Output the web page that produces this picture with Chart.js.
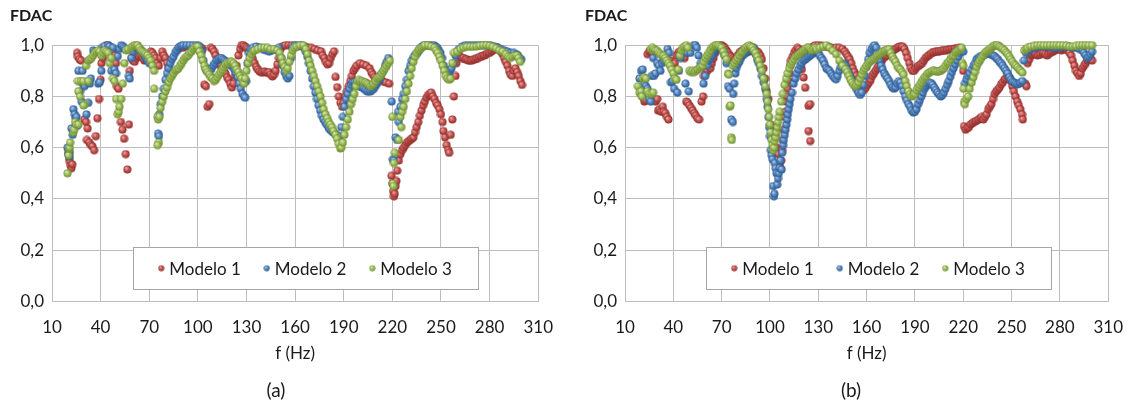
<!DOCTYPE html>
<html>
<head>
<meta charset="utf-8">
<script src="https://cdn.jsdelivr.net/npm/chart.js@4/dist/chart.umd.min.js"></script>
<style>
  body { margin: 0; background: #fff; }
  .panel { position: absolute; top: 0; height: 417px; }
  #wrapA { left: 0; width: 569px; }
  #wrapB { left: 569px; width: 570px; }
</style>
</head>
<body>
<div class="panel" id="wrapA"><canvas id="chartA"></canvas></div>
<div class="panel" id="wrapB"><canvas id="chartB"></canvas></div>
<script>
// tick labels and captions
const xTicks = [10, 40, 70, 100, 130, 160, 190, 220, 250, 280, 310];
const yTicks = [0, 0.2, 0.4, 0.6, 0.8, 1.0];
const seriesNames = ['Modelo 1', 'Modelo 2', 'Modelo 3'];
const captions = ['(a)', '(b)'];

// panel (a): [f (Hz), FDAC]
const modelo1A = [[20,0.58],[20.5,0.56],[21,0.545],[21.5,0.53],[22,0.52],[22.5,0.535],
  [25.5,0.97],[26,0.955],[27,0.945],[28,0.94],[29,0.85],[30,0.71],[31,0.70],[32,0.675],[31.5,0.63],
  [33,0.62],[34,0.61],[35,0.605],[36,0.59],[37,0.645],[38,0.715],[39,0.79],[40,0.865],[40.5,0.93],
  [41.5,0.95],[42.5,0.99],[43.5,1.0],[44.5,1.0],[45.5,0.995],[46.5,0.97],[48,0.975],[49,0.96],
  [49.5,0.93],[50,0.84],[51,0.83],[52.5,0.70],[53.5,0.67],[54.5,0.635],[55.5,0.575],[56.5,0.515],
  [57.5,0.69],[58,0.90],[59,0.95],[60,0.94],[61,0.935],[62,0.95],[63,0.96],[64,0.955],[65,0.96],
  [66,0.95],[67,0.94],[68,0.945],[69,0.96],[70,0.965],[71,0.975],[72,0.97],[73,0.96],[74,0.95],
  [75,0.93],[76,0.92],[77,0.95],[78,0.975],[79,0.96],[80,0.95],[81,0.93],[82,0.91],[83,0.89],[84,0.885],
  [88,0.985],[91,0.99],[94,0.995],[97,0.99],[100,0.99],[102,0.99],[103,0.985],[104,0.846],[105,0.84],
  [106,0.76],[107,0.77],[108,0.99],[109,0.985],[110,0.975],[111,0.96],[112,0.945],[113,0.935],
  [114,0.92],[115,0.91],[116,0.90],[117,0.89],[118,0.875],[119,0.865],[120,0.85],[121,0.835],
  [122,0.85],[123,0.88],[124,0.92],[125,0.96],[126,0.985],[127,1.0],[128,1.0],[129,0.995],[130,0.99],
  [131,0.985],[132,0.975],[133,0.96],[134,0.945],[135,0.93],[136,0.915],[137,0.905],[138,0.898],
  [139,0.895],[140,0.895],[141,0.898],[142,0.895],[143,0.893],[144,0.895],[145,0.885],[146,0.878],
  [147,0.885],[148,0.90],[149,0.925],[150,0.95],[151,0.985],[152,0.995],[154,1.0],[156,1.0],[158,1.0],
  [160,0.998],[162,0.995],[164,0.997],[166,0.995],[168,0.99],[170,0.99],[172,0.985],[174,0.98],
  [176,0.976],[177,0.96],[178,0.95],[179,0.935],[180,0.925],[181,0.93],[182,0.95],[183,0.965],
  [184,0.976],[185,0.876],[186,0.836],[187,0.80],[188,0.775],[189,0.76],[190,0.775],[191,0.80],
  [192,0.82],[193,0.84],[194,0.86],[195,0.88],[196,0.90],[197,0.91],[198,0.92],[200,0.93],[202,0.925],
  [204,0.92],[206,0.91],[207,0.895],[208,0.885],[209,0.875],[210,0.865],[212,0.87],[214,0.86],
  [216,0.855],[218,0.85],[219.5,0.49],[220,0.46],[220.5,0.43],[221,0.41],[221.5,0.42],[222,0.45],
  [222.5,0.47],[223,0.51],[224,0.55],[225,0.575],[226,0.59],[227,0.60],[228,0.61],[229,0.62],
  [230,0.625],[231,0.63],[232,0.635],[233,0.64],[234,0.66],[235,0.68],[236,0.70],[237,0.725],
  [238,0.745],[239,0.765],[240,0.78],[241,0.795],[242,0.805],[243,0.81],[244,0.815],[245,0.80],
  [246,0.79],[247,0.775],[248,0.765],[249,0.75],[250,0.73],[251,0.70],[251.5,0.665],[252.5,0.64],
  [253.5,0.61],[254.5,0.59],[255,0.58],[256,0.65],[257,0.71],[258,0.80],[259,0.88],[259.5,0.93],
  [261,0.96],[262,0.955],[263,0.95],[264,0.95],[265,0.945],[266,0.945],[267,0.94],[268,0.94],
  [269,0.94],[270,0.945],[271,0.945],[272,0.95],[273,0.95],[274,0.955],[275,0.955],[276,0.96],
  [277,0.96],[278,0.965],[279,0.97],[280,0.97],[281,0.975],[282,0.98],[283,0.985],[284,0.99],
  [285,0.99],[286,0.985],[287,0.975],[288,0.965],[289,0.95],[290,0.935],[291,0.92],[292,0.90],
  [293,0.885],[294,0.88],[295,0.90],[296,0.91],[297,0.895],[298,0.88],[299,0.86],[300,0.845]];

const modelo2A = [[19.5,0.60],[20,0.575],[20.5,0.565],[21,0.58],[22,0.675],[22.8,0.65],[23.2,0.75],
  [24,0.73],[24.5,0.715],[25.2,0.72],[25.5,0.685],[26.3,0.90],[27.3,0.82],[28.3,0.78],[28.8,0.90],
  [30,0.84],[31.3,0.73],[32.4,0.775],[33.4,0.85],[34,0.87],[35.4,0.98],[36.5,0.975],[38.5,0.85],
  [39.5,0.855],[40.5,0.90],[40.8,0.99],[42.5,0.996],[44.6,1.0],[45.5,0.995],[46.6,0.90],[47.6,0.99],
  [48.6,0.905],[49.5,0.89],[50.6,0.957],[51.6,0.985],[52.7,1.0],[53.7,0.996],[54.5,0.99],[55.5,0.985],
  [57.4,0.88],[58,0.87],[59,0.95],[60,0.975],[61,0.99],[62,0.995],[63,0.99],[64,0.985],[65,0.98],
  [66,0.97],[67,0.96],[68,0.95],[69,0.94],[70,0.93],[75.5,0.655],[76,0.645],[75.5,0.72],[76.2,0.73],
  [77,0.77],[78,0.80],[79,0.83],[80,0.865],[81,0.89],[82,0.91],[83,0.93],[84,0.945],[85,0.955],
  [86,0.97],[87,0.98],[88,0.99],[89,0.995],[90,0.998],[91,1.0],[93,1.0],[95,1.0],[97,1.0],[99,1.0],
  [100.5,0.998],[101.5,0.99],[102.5,0.975],[103.5,0.94],[104.5,0.915],[105.5,0.90],[106.5,0.895],
  [107.5,0.90],[108.5,0.91],[109.5,0.92],[110.5,0.93],[111.5,0.94],[112.5,0.945],[113.5,0.95],
  [114.5,0.95],[115.5,0.945],[116.5,0.94],[117.5,0.935],[118.5,0.93],[119.5,0.925],[120.5,0.92],
  [121.5,0.915],[122.5,0.905],[123.5,0.89],[124.5,0.875],[125.5,0.85],[126.5,0.83],[127.5,0.81],
  [128.5,0.80],[129.2,0.795],[129.8,0.86],[130.5,0.93],[131.5,0.97],[132.5,0.985],[134,0.99],
  [136,0.995],[138,0.99],[140,0.985],[142,0.98],[144,0.975],[146,0.98],[148,0.985],[150,0.99],
  [151.5,0.95],[152.5,0.92],[153.5,0.895],[154.5,0.88],[155.5,0.87],[156.5,0.88],[157.5,0.95],
  [158.5,0.99],[160,1.0],[162,1.0],[164,1.0],[165.5,0.99],[166.5,0.975],[167.5,0.955],[168.5,0.93],
  [169.5,0.90],[170.5,0.87],[171.5,0.84],[172.5,0.815],[173.5,0.79],[174.5,0.765],[175.5,0.745],
  [176.5,0.725],[177.5,0.71],[178.5,0.70],[179.5,0.69],[180.5,0.68],[181.5,0.67],[182.5,0.665],
  [183.5,0.66],[184.5,0.655],[185.5,0.65],[186.5,0.645],[187.5,0.645],[188.5,0.68],[189.5,0.72],
  [190.5,0.76],[191.5,0.79],[192.5,0.81],[193.5,0.83],[194.5,0.845],[195.5,0.855],[196.5,0.855],
  [197.5,0.85],[198.5,0.845],[199.5,0.84],[200.5,0.84],[201.5,0.835],[202.5,0.83],[203.5,0.825],
  [204.5,0.82],[205.5,0.82],[206.5,0.82],[207.5,0.825],[208.5,0.83],[209.5,0.84],[210.5,0.85],
  [211.5,0.86],[212.5,0.87],[213.5,0.89],[214.5,0.90],[215.5,0.92],[216.5,0.935],[217.5,0.95],
  [219.6,0.78],[220.4,0.555],[221,0.55],[222,0.64],[223,0.63],[223.5,0.74],[224,0.70],[225,0.76],
  [226,0.79],[227,0.81],[228,0.84],[229,0.865],[230,0.90],[231,0.92],[232,0.94],[233.3,0.955],
  [234.5,0.965],[235.5,0.97],[236.5,0.98],[237.5,0.99],[238.5,0.995],[239.5,1.0],[241,1.0],
  [242.6,1.0],[244,1.0],[245.7,1.0],[246.7,0.995],[247.7,0.99],[248.7,0.98],[249.7,0.97],
  [250.7,0.95],[251.8,0.92],[253.2,0.90],[254.5,0.885],[255.5,0.90],[256.5,0.91],[257.5,0.93],
  [259,0.96],[261,0.985],[263,0.995],[265,1.0],[267,1.0],[269,1.0],[271,1.0],[273,1.0],[275,1.0],
  [277,1.0],[279,1.0],[281,0.998],[283,0.995],[285,0.99],[287,0.985],[289,0.98],[291,0.975],
  [293,0.97],[295,0.97],[296.5,0.965],[297.5,0.96],[298.5,0.95],[299.5,0.945]];

const modelo3A = [[19.6,0.50],[20.2,0.57],[20.5,0.595],[20.8,0.60],[21.2,0.62],[23.2,0.66],[23.6,0.67],
  [24.2,0.70],[25,0.69],[26.3,0.69],[26.3,0.82],[27.3,0.80],[26,0.86],[28,0.86],[29.3,0.86],[30.3,0.77],
  [29.5,0.765],[32.4,0.86],[31,0.92],[32.4,0.94],[33.4,0.945],[34.4,0.95],[35.4,0.96],[36.4,0.97],
  [37.4,0.975],[38.5,0.98],[39.5,0.975],[40.5,0.96],[41.5,0.97],[42.5,0.98],[43.5,0.975],[44.6,0.97],
  [45.6,0.93],[46.6,0.95],[47.6,0.87],[48.6,0.86],[49.6,0.79],[50.6,0.73],[51.2,0.74],[51.7,0.76],
  [52.7,0.79],[53.7,0.85],[54.7,0.93],[55.7,0.98],[57,0.985],[58.8,0.99],[59.8,0.995],[60.8,1.0],
  [61.8,1.0],[62.8,1.0],[63.8,0.99],[64.9,0.98],[65.9,0.975],[66.9,0.97],[67.9,0.965],[68.9,0.96],
  [70,0.95],[71,0.94],[72,0.92],[73,0.90],[73,0.83],[75,0.72],[75.5,0.71],[76,0.62],[75.2,0.61],
  [76.2,0.72],[77,0.755],[78,0.78],[79,0.80],[80,0.82],[81,0.835],[82,0.855],[83,0.87],[84,0.88],
  [85,0.89],[86,0.90],[87,0.905],[88,0.91],[89,0.92],[90,0.93],[91,0.94],[92,0.95],[93,0.955],
  [94,0.96],[95,0.97],[96,0.975],[97,0.985],[98,0.99],[99,0.995],[100,0.995],[101,0.975],[102,0.96],
  [103,0.94],[104,0.92],[105,0.905],[106,0.895],[107,0.885],[108,0.875],[109,0.87],[110,0.86],
  [111,0.865],[112,0.875],[113,0.885],[114,0.895],[115,0.905],[116,0.915],[117,0.925],[118,0.93],
  [119,0.93],[120,0.935],[121,0.935],[122,0.93],[123,0.92],[124,0.905],[125,0.895],[126,0.88],
  [127,0.87],[128,0.855],[128.5,0.85],[129.2,0.87],[130,0.90],[131,0.93],[132,0.95],[133,0.965],
  [134,0.975],[135,0.98],[137,0.985],[139,0.99],[141,0.99],[143,0.99],[145,0.985],[147,0.985],
  [149,0.98],[150.5,0.97],[151.5,0.95],[152.5,0.93],[153.5,0.915],[154.5,0.90],[155.5,0.91],
  [156.5,0.935],[157.5,0.96],[158.5,0.98],[159.5,0.99],[161,0.995],[163,1.0],[165,1.0],[166.6,0.985],
  [167.6,0.965],[168.6,0.94],[169.6,0.92],[170.6,0.90],[171.6,0.88],[172.6,0.86],[173.6,0.84],
  [174.7,0.82],[175.7,0.80],[176.7,0.775],[177.7,0.75],[178.8,0.73],[179.8,0.715],[180.8,0.70],
  [181.8,0.69],[182.8,0.68],[183.8,0.665],[184.9,0.65],[185.9,0.635],[186.9,0.615],[187.9,0.597],
  [188.5,0.60],[189.5,0.62],[190.5,0.65],[191.5,0.68],[192.5,0.71],[193.5,0.74],[194.5,0.77],
  [195.5,0.79],[196.5,0.81],[197.5,0.84],[198.5,0.86],[199.5,0.865],[200.5,0.86],[201.5,0.86],
  [202.5,0.855],[203.5,0.855],[204.5,0.85],[205.5,0.845],[206.5,0.84],[207.5,0.845],[208.5,0.85],
  [209.5,0.86],[210.5,0.87],[211.5,0.875],[212.5,0.88],[213.5,0.89],[214.5,0.90],[215.5,0.91],
  [216.5,0.92],[217.5,0.93],[218.5,0.94],[220,0.72],[220.3,0.46],[220.7,0.45],[221,0.54],[221.5,0.58],
  [224,0.63],[225,0.72],[225.5,0.68],[226,0.74],[227,0.76],[228,0.79],[229,0.82],[230,0.85],
  [231,0.88],[232,0.91],[233,0.935],[234,0.955],[235,0.97],[236,0.98],[237,0.985],[238,0.99],
  [239,0.995],[240,1.0],[242,1.0],[244,0.995],[246,0.99],[247,0.98],[248,0.97],[249,0.955],[250,0.94],
  [251,0.92],[252,0.90],[253,0.88],[254,0.87],[255,0.865],[256,0.87],[257,0.93],[258,0.97],[260,0.975],
  [262,0.985],[264,0.99],[266,0.994],[268,0.994],[270,0.994],[272,0.995],[274,0.998],[276,1.0],
  [278,1.0],[280,0.998],[282,0.994],[284,0.988],[286,0.98],[288,0.975],[290,0.965],[291.5,0.955],
  [292.7,0.95],[294,0.955],[295.5,0.96],[296.8,0.96],[297.8,0.95],[298.8,0.935]];

// panel (b)
const modelo1B = [[21,0.80],[21.5,0.795],[22,0.78],[23,0.785],[24,0.965],[25,0.975],[26,0.98],[27,0.97],
  [28,0.79],[29,0.78],[30,0.79],[30.5,0.745],[31.5,0.75],[32.5,0.74],[33.5,0.76],[34,0.74],[35,0.735],
  [36,0.72],[37,0.71],[38,0.94],[39,0.92],[40,0.90],[41,0.93],[42,0.96],[43,0.97],[44,0.975],[45,0.97],
  [46,0.96],[47,0.95],[48,0.78],[49,0.775],[50,0.765],[51,0.755],[52,0.745],[53,0.735],[54,0.725],
  [55,0.715],[56,0.71],[57.5,0.78],[58.5,0.80],[59,0.88],[60,0.89],[61,0.90],[62,0.92],[63,0.91],
  [64,0.93],[65,0.95],[66,0.97],[67,0.985],[68,0.995],[69,1.0],[70,1.0],[71,0.995],[72,0.99],[73,0.98],
  [74,0.97],[75,0.96],[76,0.955],[77,0.95],[78,0.945],[79,0.95],[80,0.96],[81,0.97],[82,0.975],
  [83,0.98],[84,0.985],[85,0.98],[86,0.975],[87,0.975],[88,0.98],[89,0.985],[90,0.985],[91,0.98],
  [92,0.975],[93,0.97],[94,0.96],[95,0.945],[96,0.91],[97,0.87],[98,0.82],[99,0.79],[100.5,0.69],
  [101.5,0.68],[102.5,0.66],[103.5,0.645],[104,0.60],[105,0.575],[106,0.535],[106.5,0.52],[107,0.55],
  [107.5,0.59],[108,0.63],[108.5,0.67],[109,0.72],[109.5,0.74],[110,0.78],[110.5,0.80],[111,0.83],
  [111.5,0.86],[112,0.89],[112.5,0.92],[113,0.94],[114,0.955],[115,0.97],[116,0.98],[117,0.99],
  [118,0.985],[119,0.975],[119.8,0.906],[120.9,0.874],[121.9,0.834],[120,0.97],[121,0.96],[122,0.95],
  [123,0.955],[123.9,0.763],[124.9,0.77],[124,0.665],[125,0.626],[124,0.96],[125,0.975],[126,0.99],
  [127,0.995],[128,1.0],[130,1.0],[132,0.998],[134,0.995],[136,0.993],[138,0.99],[139,0.987],[141,0.99],
  [143,0.99],[145,0.985],[146.5,0.975],[147.5,0.965],[148.5,0.955],[149.5,0.945],[150.5,0.93],
  [151.5,0.91],[152.5,0.895],[153.5,0.88],[154.5,0.865],[155.5,0.85],[156.5,0.838],[157.5,0.828],
  [158.5,0.826],[159.5,0.835],[160.5,0.845],[161.5,0.855],[162.5,0.865],[163.5,0.88],[164.5,0.89],
  [165.5,0.90],[166.5,0.91],[167.5,0.92],[168.5,0.93],[169.5,0.94],[170.5,0.95],[171.5,0.955],
  [172.5,0.96],[173.5,0.97],[174.5,0.975],[175.5,0.978],[176.5,0.98],[177.5,0.984],[178.5,0.988],
  [179.5,0.992],[180.5,0.995],[181.5,0.995],[182.5,0.994],[183.5,0.985],[184.5,0.97],[185.5,0.95],
  [186.5,0.93],[187.5,0.91],[188.5,0.90],[189.5,0.90],[190.5,0.91],[191.5,0.916],[192.5,0.92],
  [193.5,0.925],[194.5,0.93],[195.5,0.94],[196.5,0.95],[197.5,0.955],[198.5,0.96],[199.5,0.965],
  [200.5,0.97],[201.5,0.972],[202.5,0.974],[203.5,0.975],[204.5,0.976],[205.5,0.977],[206.5,0.978],
  [207.5,0.98],[208.5,0.98],[209.5,0.981],[210.5,0.982],[211.5,0.983],[212.5,0.984],[213.5,0.985],
  [214.5,0.986],[215.5,0.987],[216.5,0.988],[217.5,0.99],[218.5,0.98],[220,0.90],[220.5,0.684],
  [221.5,0.67],[222.5,0.677],[223.5,0.68],[224.5,0.69],[225.5,0.695],[226.5,0.70],[227.5,0.703],
  [228.5,0.706],[229.5,0.71],[230.5,0.715],[231.5,0.72],[232.5,0.71],[233.5,0.72],[234.5,0.73],
  [235.5,0.75],[236.5,0.76],[237.5,0.77],[238.5,0.79],[239.5,0.81],[240.5,0.82],[241.5,0.827],
  [242.5,0.835],[243.5,0.847],[244.5,0.855],[245.5,0.865],[246.5,0.87],[247.5,0.88],[248.5,0.875],
  [249.5,0.86],[250.5,0.84],[251.5,0.82],[252.5,0.80],[253.5,0.78],[254.5,0.765],[255.5,0.75],
  [256.5,0.73],[257,0.71],[258.5,0.85],[259.2,0.84],[260,0.93],[261,0.945],[262,0.96],[263,0.965],
  [264,0.97],[265,0.965],[266,0.96],[267,0.962],[268,0.965],[269,0.97],[270,0.97],[271,0.965],
  [272,0.96],[273,0.965],[274,0.97],[275,0.974],[276,0.977],[277,0.98],[278,0.984],[279,0.987],
  [280,0.985],[281,0.98],[282,0.984],[283,0.987],[284,0.985],[285,0.98],[286,0.97],[287,0.96],
  [288,0.94],[289,0.92],[290,0.90],[291,0.89],[292,0.88],[293,0.89],[294,0.91],[295,0.92],[296,0.93],
  [297,0.94],[298,0.945],[299,0.95],[300,0.94]];

const modelo2B = [[19,0.87],[20,0.90],[21,0.905],[22,0.85],[23,0.84],[24,0.83],[25,0.79],[26,0.78],
  [26.5,0.88],[27.5,0.95],[28,0.88],[29,0.89],[30,0.93],[31,0.92],[32,0.90],[33,0.93],[34,0.94],
  [35,0.95],[36.4,0.985],[37.4,0.97],[38.5,0.855],[39.5,0.86],[40.5,0.83],[42.5,0.815],[43.5,0.90],
  [44.5,0.95],[46.6,0.97],[48.6,0.97],[50.6,0.97],[52.7,1.0],[53.7,1.0],[54.7,0.99],[55.7,0.96],
  [57,0.93],[47.6,0.85],[49.6,0.82],[58.8,0.85],[59.8,0.88],[61,0.92],[62,0.94],[63,0.95],[64,0.96],
  [65,0.97],[66,0.98],[67,0.985],[68,0.99],[69,0.99],[70,0.985],[71,0.975],[72,0.96],[73,0.93],
  [74,0.84],[75,0.83],[76,0.71],[77,0.70],[77.2,0.81],[77.8,0.85],[78.5,0.89],[79,0.91],[80,0.925],
  [81,0.935],[82,0.95],[83,0.96],[84,0.965],[85,0.97],[86,0.975],[87,0.98],[88,0.985],[89,0.99],
  [90,0.99],[91,0.965],[92,0.945],[93,0.93],[94,0.91],[95,0.88],[96,0.855],[97,0.83],[98,0.79],
  [98.5,0.76],[99,0.72],[99.5,0.68],[100,0.645],[100.5,0.59],[101,0.57],[101.5,0.555],[102,0.45],
  [102.5,0.41],[102.8,0.42],[103,0.54],[103.5,0.52],[104,0.50],[104.5,0.456],[105,0.48],[105.5,0.50],
  [106,0.52],[106.6,0.55],[107.3,0.515],[107.6,0.58],[108.2,0.61],[108.6,0.63],[109.2,0.65],
  [109.7,0.67],[110.2,0.69],[110.7,0.71],[111.1,0.73],[111.7,0.75],[112.2,0.77],[112.7,0.79],
  [113.7,0.815],[114.7,0.85],[115.7,0.87],[116.7,0.89],[117.7,0.905],[118.7,0.92],[119.7,0.93],
  [120.9,0.94],[121.9,0.945],[123,0.95],[124,0.955],[125,0.96],[126,0.965],[127,0.97],[128,0.975],
  [129,0.975],[130,0.97],[131,0.958],[132,0.95],[133,0.94],[134,0.925],[135,0.91],[136,0.905],
  [137,0.90],[138,0.89],[139,0.88],[140,0.872],[141,0.867],[142,0.88],[143,0.90],[144,0.915],
  [145,0.925],[146,0.928],[147,0.92],[148,0.905],[149,0.89],[150,0.875],[151,0.865],[152,0.855],
  [153,0.84],[154,0.826],[155,0.813],[156,0.806],[157,0.815],[158,0.845],[159,0.88],[160,0.915],
  [161,0.945],[162,0.97],[163,0.985],[164,0.994],[165,1.0],[166,0.99],[167,0.96],[168,0.94],
  [169,0.92],[170,0.905],[171,0.89],[172,0.88],[173,0.87],[174,0.86],[175,0.845],[176,0.835],
  [177,0.83],[178,0.835],[179,0.85],[180,0.86],[181,0.855],[182,0.84],[183,0.82],[184,0.80],
  [185,0.785],[186,0.77],[187,0.76],[188,0.745],[189,0.737],[190,0.74],[191,0.75],[192,0.77],
  [193,0.785],[194,0.80],[195,0.815],[196,0.83],[197,0.84],[198,0.848],[199,0.854],[200,0.852],
  [201,0.845],[202,0.835],[203,0.825],[204,0.815],[205,0.808],[206,0.80],[207,0.805],[208,0.815],
  [209,0.83],[210,0.845],[211,0.86],[212,0.877],[213,0.895],[214,0.91],[215,0.925],[216,0.94],
  [217,0.955],[218,0.97],[219,0.985],[220,0.975],[221,0.85],[222,0.867],[223,0.88],[224,0.89],
  [225.3,0.905],[226.3,0.92],[227.3,0.93],[228.2,0.945],[229.3,0.95],[230.3,0.955],[231.3,0.957],
  [232.4,0.96],[233.4,0.963],[234.4,0.967],[235.4,0.97],[236.5,0.967],[237.5,0.963],[238.5,0.96],
  [239.5,0.957],[240.5,0.95],[241.5,0.945],[242.5,0.935],[243.5,0.93],[244.5,0.92],[245.6,0.91],
  [246.6,0.90],[247.6,0.89],[248.6,0.875],[249.6,0.865],[250.6,0.857],[251.6,0.854],[252.6,0.85],
  [253.7,0.847],[254.7,0.85],[255.7,0.854],[256.7,0.86],[257.7,0.94],[259,0.97],[260,0.98],
  [262,0.985],[264,0.99],[266,0.993],[268,0.995],[270,0.995],[272,0.995],[274,0.993],[276,0.99],
  [278,0.99],[280,0.992],[282,0.993],[284,0.995],[286,0.993],[288,0.99],[290,0.99],[292,0.985],
  [294,0.98],[295,0.97],[296,0.96],[297,0.95],[298,0.955],[299,0.965],[300,0.975]];

const modelo3B = [[18,0.84],[19,0.815],[20,0.82],[20.5,0.80],[21,0.87],[22,0.875],[23,0.87],[24,0.82],
  [25,0.81],[26,0.985],[26.5,0.81],[27,0.99],[27.5,0.815],[28,0.985],[29,0.98],[30,0.978],[31,0.97],
  [32,0.965],[33,0.96],[34,0.958],[35,0.95],[36,0.94],[37,0.93],[38,0.92],[39,0.905],[40,0.89],
  [41,0.87],[42,0.865],[43,0.905],[44,0.96],[45,0.98],[46,0.99],[47,0.995],[48,1.0],[49,0.99],
  [50,0.90],[51,0.895],[52,0.90],[53,0.895],[54,0.90],[55,0.905],[56,0.91],[57,0.915],[58,0.92],
  [59,0.935],[60,0.95],[61,0.96],[62,0.97],[63,0.98],[64,0.99],[65,0.995],[66,1.0],[67,1.0],[68,1.0],
  [69,0.995],[70,0.99],[71,0.975],[72,0.96],[73,0.945],[74,0.89],[74.5,0.885],[75,0.76],[75.5,0.765],
  [76,0.64],[76.3,0.63],[77,0.92],[78,0.93],[79,0.94],[80,0.95],[81,0.96],[82,0.97],[83,0.975],
  [84,0.985],[85,0.99],[86,0.995],[87,1.0],[88,0.995],[89,0.99],[90,0.98],[91,0.97],[92,0.955],
  [93,0.94],[94,0.92],[95,0.90],[96,0.87],[97,0.84],[98,0.81],[98.5,0.78],[99,0.75],[99.5,0.72],
  [100,0.69],[100.5,0.66],[101,0.63],[101.5,0.61],[102,0.59],[102.5,0.60],[103,0.625],[103.5,0.64],
  [104,0.66],[104.5,0.68],[105,0.70],[105.5,0.72],[106,0.74],[107,0.78],[108,0.81],[109,0.845],
  [110,0.87],[111,0.89],[112,0.91],[113,0.925],[114,0.935],[115,0.945],[116,0.955],[117,0.96],
  [118,0.965],[119,0.97],[120,0.975],[121,0.98],[122,0.985],[123,0.99],[124,0.99],[125,0.985],
  [126,0.98],[127,0.985],[128,0.99],[129,0.985],[131,0.99],[133,0.995],[135,1.0],[137,0.99],
  [139,0.978],[141,0.965],[143,0.94],[145,0.92],[147,0.906],[148,0.895],[149,0.88],[150,0.865],
  [151,0.854],[152,0.845],[153,0.84],[154,0.845],[155,0.855],[156,0.87],[157,0.885],[158,0.90],
  [159,0.91],[160,0.92],[161,0.928],[162,0.935],[163,0.94],[164,0.945],[165,0.95],[166,0.955],
  [167,0.96],[168,0.965],[169,0.97],[170,0.975],[171,0.978],[172,0.98],[173,0.984],[174,0.984],
  [175,0.97],[176,0.955],[177,0.945],[178,0.935],[179,0.92],[180,0.91],[181,0.905],[182,0.895],
  [183,0.885],[184,0.86],[185,0.84],[186,0.82],[187,0.806],[188,0.80],[189,0.805],[190,0.81],
  [191,0.825],[192,0.835],[193,0.845],[194,0.855],[195,0.865],[196,0.875],[197,0.88],[198,0.89],
  [199,0.893],[200,0.897],[201,0.90],[202,0.90],[203,0.898],[204,0.897],[205,0.898],[206,0.90],
  [207,0.905],[208,0.91],[209,0.92],[210,0.93],[211,0.935],[212,0.945],[213,0.955],[214,0.96],
  [215,0.97],[216,0.975],[217,0.98],[218,0.985],[219,0.99],[219.5,0.93],[220,0.92],[220.3,0.83],
  [220.6,0.78],[221,0.77],[222,0.79],[223,0.80],[224,0.83],[225.3,0.855],[226.3,0.875],[227.3,0.895],
  [228.3,0.915],[229.3,0.93],[230.3,0.94],[231.3,0.95],[232.3,0.96],[233.4,0.97],[234.4,0.975],
  [235.4,0.98],[236.5,0.985],[237.5,0.99],[238.5,0.995],[239.5,1.0],[240.5,1.0],[241.5,1.0],
  [242.5,0.995],[243.5,0.99],[244.5,0.985],[245.6,0.98],[246.6,0.972],[247.6,0.965],[248.6,0.955],
  [249.6,0.945],[250.6,0.935],[251.6,0.926],[252.6,0.92],[253.7,0.913],[254.7,0.905],[255.7,0.90],
  [256.7,0.893],[257.8,0.98],[259,0.985],[260,0.99],[262,0.995],[264,0.997],[266,1.0],[268,1.0],
  [270,1.0],[272,1.0],[274,1.0],[276,1.0],[278,1.0],[280,1.0],[282,1.0],[284,0.998],[286,0.995],
  [288,0.995],[290,0.997],[292,1.0],[294,1.0],[296,1.0],[298,1.0],[300,1.0]];

// shaded ball markers, like the Excel 3D points
function ball(base, light, dark, r) {
  const c = document.createElement('canvas');
  const s = Math.ceil(r * 2) + 1;
  c.width = c.height = s;
  const g = c.getContext('2d');
  const m = s / 2;
  const grad = g.createRadialGradient(m - r * 0.35, m - r * 0.4, r * 0.1, m, m, r);
  grad.addColorStop(0, light);
  grad.addColorStop(0.55, base);
  grad.addColorStop(1, dark);
  g.fillStyle = grad;
  g.beginPath();
  g.arc(m, m, r, 0, Math.PI * 2);
  g.fill();
  return c;
}

const palette = [
  { base: '#c0504d', light: '#eaa19d', dark: '#8e2b28' },
  { base: '#4f81bd', light: '#a9c6e8', dark: '#2d5a8e' },
  { base: '#9bbb59', light: '#d6e9ad', dark: '#6c8a2f' }
];
const dots = palette.map(p => ball(p.base, p.light, p.dark, 4));
const legendDots = palette.map(p => ball(p.base, p.light, p.dark, 3));

const FONT = "Lato, 'Open Sans', sans-serif";
const TEXT = '#1a1a1a';
const GRID = '#bdbdbd';

// legend box drawn inside the plot area
const innerLegend = {
  id: 'innerLegend',
  afterDatasetsDraw(chart, args, opts) {
    const { ctx, chartArea } = chart;
    const bx = chartArea.left + opts.dx;
    const by = chartArea.top + opts.dy;
    ctx.save();
    ctx.fillStyle = '#fff';
    ctx.fillRect(bx, by, opts.w, opts.h);
    ctx.strokeStyle = '#a6a6a6';
    ctx.lineWidth = 1;
    ctx.strokeRect(Math.round(bx) + 0.5, Math.round(by) + 0.5, opts.w, opts.h);
    ctx.font = '17px ' + FONT;
    ctx.textBaseline = 'middle';
    ctx.fillStyle = TEXT;
    const cy = by + opts.h / 2;
    const widths = chart.data.datasets.map(d => ctx.measureText(d.label).width);
    const gap = 24, dotGap = 10;
    const total = widths.reduce((s, w) => s + w + dotGap, 0) + gap * (widths.length - 1);
    let x = bx + (opts.w - total) / 2;
    chart.data.datasets.forEach((d, i) => {
      const img = legendDots[i];
      ctx.drawImage(img, x - img.width / 2 + 2, cy - img.height / 2);
      ctx.fillText(d.label, x + dotGap, cy + 1);
      x += dotGap + widths[i] + gap;
    });
    ctx.restore();
  }
};

function makeChart(id, series, caption, pad, yWidth) {
  const datasets = series.map((pts, i) => ({
    label: seriesNames[i],
    data: pts.map(p => ({ x: p[0], y: p[1] })),
    pointStyle: dots[i],
    pointRadius: 4,
    showLine: false,
    clip: false,
    order: 2 - i
  }));
  return new Chart(document.getElementById(id), {
    type: 'scatter',
    data: { datasets },
    plugins: [innerLegend],
    options: {
      responsive: true,
      maintainAspectRatio: false,
      animation: false,
      layout: { padding: { left: pad.left, right: pad.right, top: 0, bottom: 0 } },
      scales: {
        x: {
          type: 'linear',
          min: 10, max: 310,
          afterBuildTicks: s => { s.ticks = xTicks.map(v => ({ value: v })); },
          grid: { color: GRID, drawTicks: false },
          border: { color: GRID },
          ticks: { padding: 16, maxRotation: 0, color: TEXT, font: { family: FONT, size: 17 } },
          title: {
            display: true, text: 'f (Hz)', color: TEXT,
            font: { family: FONT, size: 17 }, padding: { top: -10, bottom: 0 }
          }
        },
        y: {
          min: 0, max: 1,
          afterBuildTicks: s => { s.ticks = yTicks.map(v => ({ value: v })); },
          afterFit: s => { s.width = yWidth; },
          grid: { color: GRID, drawTicks: false },
          border: { color: GRID },
          ticks: {
            padding: 8, color: TEXT, font: { family: FONT, size: 17 },
            callback: v => v.toFixed(1).replace('.', ',')
          }
        }
      },
      plugins: {
        legend: { display: false },
        tooltip: { enabled: false },
        title: {
          display: true, text: 'FDAC', align: 'start', color: TEXT,
          font: { family: FONT, size: 16, weight: 'bold' },
          padding: { top: 6, bottom: 20 }
        },
        subtitle: {
          display: true, text: caption, position: 'bottom', color: TEXT,
          font: { family: FONT, size: 19 },
          padding: { top: 15, bottom: 15 }
        },
        innerLegend: { dx: 81, dy: 202, w: 345, h: 42 }
      }
    }
  });
}

makeChart('chartA', [modelo1A, modelo2A, modelo3A], captions[0], { left: 10, right: 27 }, 42);
makeChart('chartB', [modelo1B, modelo2B, modelo3B], captions[1], { left: 16, right: 22 }, 40);
</script>
</body>
</html>
